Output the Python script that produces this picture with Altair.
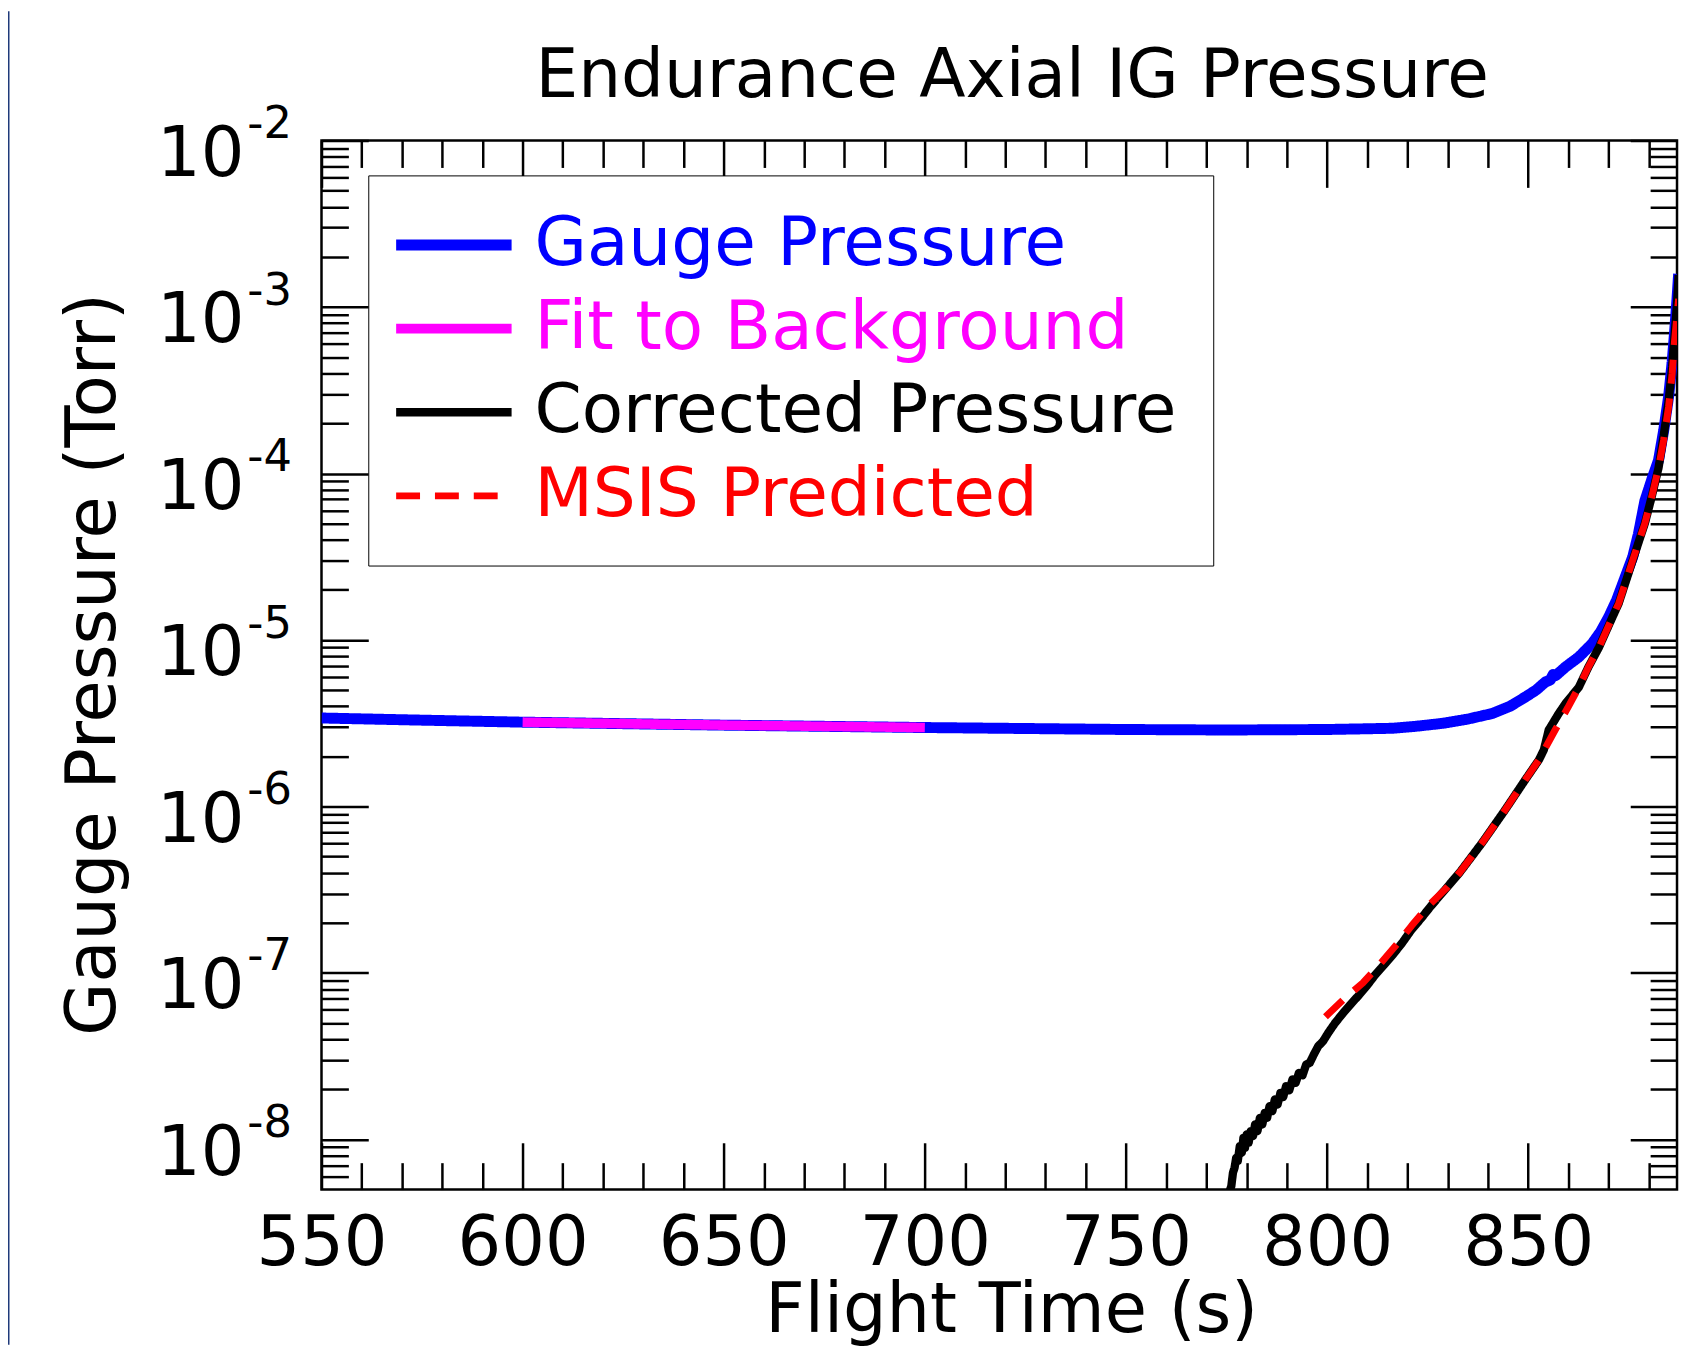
import json
import altair as alt
import pandas as pd

# ---------------- data ----------------
SERIES = ["Gauge Pressure", "Fit to Background", "Corrected Pressure", "MSIS Predicted"]
COLORS = ["#0000ff", "#ff00ff", "#000000", "#ff0000"]
WIDTHS = [11, 7, 10, 10]
DASHES = [[1, 0], [1, 0], [1, 0], [24, 15]]

GAUGE_T = [550, 575, 600, 650, 700, 725, 750, 775, 800, 810, 816.4, 822, 828.8, 835, 841.1,
           845.5, 849.4, 852, 854.3, 855.5, 856.2, 856.8, 859.3, 862.6, 865.9, 868, 870.0,
           872, 874.1, 876, 877.4, 879.0, 880.8, 882.4, 883.7, 884.9, 885.8, 886.4, 887.0,
           887.4]
GAUGE_P = [3.40e-6, 3.30e-6, 3.21e-6, 3.08e-6, 2.98e-6, 2.94e-6, 2.90e-6, 2.88e-6, 2.90e-6,
           2.93e-6, 2.95e-6, 3.03e-6, 3.16e-6, 3.35e-6, 3.62e-6, 4.00e-6, 4.56e-6, 5.01e-6,
           5.60e-6, 5.75e-6, 6.20e-6, 6.10e-6, 6.89e-6, 7.91e-6, 9.51e-6, 1.12e-5, 1.37e-5,
           1.74e-5, 2.38e-5, 3.16e-5, 4.33e-5, 6.84e-5, 9.30e-5, 1.20e-4, 1.82e-4, 2.88e-4,
           4.68e-4, 7.08e-4, 1.12e-3, 1.58e-3]

FIT_T = [600, 650, 700]
FIT_P = [3.21e-6, 3.08e-6, 2.98e-6]

CORR_T = [774.6, 775.3, 775.8, 776.2, 776.6, 777.0, 777.4, 777.8, 778.3, 778.8, 779.2, 779.6,
          780.0, 780.5, 781.0, 781.6, 782.1, 782.7, 783.3, 783.9, 784.5, 785.1, 785.7, 786.4,
          787.0, 787.7, 788.4, 789.1, 789.8, 790.6, 791.4, 792.2, 793.0, 793.9, 794.8, 795.7,
          796.7, 797.8, 799.0, 800.3, 802.0, 804.0, 806.0, 808.0, 810.0, 812.0, 814.2, 816.5,
          818.8, 821.0, 823.4, 825.8, 829.5, 833.0, 838.6, 844.3, 849.3, 852.7, 853.9, 855.1,
          857.6, 859.3, 862.6, 865.0, 867.6, 870.0, 872.5, 875.7, 877.5, 879.0, 880.8, 882.4,
          883.7, 884.9, 885.8, 886.4, 887.0, 887.4]
CORR_P = [3.16e-9, 3.98e-9, 4.90e-9, 5.25e-9, 6.31e-9, 6.76e-9, 7.76e-9, 7.41e-9, 9.12e-9,
          8.32e-9, 1.023e-8, 8.91e-9, 1.072e-8, 9.55e-9, 1.122e-8, 1.047e-8, 1.230e-8,
          1.122e-8, 1.349e-8, 1.230e-8, 1.445e-8, 1.349e-8, 1.585e-8, 1.479e-8, 1.738e-8,
          1.622e-8, 1.905e-8, 1.799e-8, 2.089e-8, 1.972e-8, 2.291e-8, 2.188e-8, 2.512e-8,
          2.427e-8, 2.818e-8, 2.884e-8, 3.236e-8, 3.631e-8, 3.89e-8, 4.37e-8, 5.01e-8, 5.75e-8,
          6.53e-8, 7.40e-8, 8.45e-8, 9.77e-8, 1.12e-7, 1.30e-7, 1.53e-7, 1.82e-7, 2.13e-7,
          2.52e-7, 3.20e-7, 4.02e-7, 6.08e-7, 9.57e-7, 1.45e-6, 1.91e-6, 2.19e-6, 2.88e-6,
          3.62e-6, 4.16e-6, 5.21e-6, 6.90e-6, 9.04e-6, 1.22e-5, 1.66e-5, 2.87e-5, 3.90e-5,
          5.01e-5, 7.40e-5, 1.08e-4, 1.70e-4, 2.71e-4, 4.40e-4, 6.82e-4, 1.05e-3, 1.56e-3]

MSIS_T = [799.6, 804.0, 808.9, 813.0, 817.4, 821.0, 825.1, 829.5, 833.0, 838.6, 844.3, 849.3,
          852.7, 856.7, 859.8, 862.6, 865.0, 867.6, 870.0, 872.5, 875.7, 877.5, 879.0, 880.8,
          882.4, 883.7, 884.9, 885.8, 886.4, 887.0, 887.4]
MSIS_P = [5.46e-8, 6.90e-8, 8.71e-8, 1.12e-7, 1.49e-7, 1.92e-7, 2.52e-7, 3.20e-7, 4.02e-7,
          6.08e-7, 9.57e-7, 1.45e-6, 1.91e-6, 2.88e-6, 3.90e-6, 5.21e-6, 6.90e-6, 9.04e-6,
          1.22e-5, 1.66e-5, 2.87e-5, 3.90e-5, 5.01e-5, 7.40e-5, 1.08e-4, 1.60e-4, 2.51e-4,
          4.00e-4, 6.31e-4, 8.90e-4, 1.12e-3]

X_DOMAIN = [550, 887]
Y_DOMAIN = [5e-9, 1e-2]
X_MAJOR = [550, 600, 650, 700, 750, 800, 850]
X_MINOR = [560, 570, 580, 590, 610, 620, 630, 640, 660, 670, 680, 690, 710, 720, 730, 740,
           760, 770, 780, 790, 810, 820, 830, 840, 860, 870, 880]
Y_MAJOR = [1e-2, 1e-3, 1e-4, 1e-5, 1e-6, 1e-7, 1e-8]
Y_BASE_LABELS = ["10", "10", "10", "10", "10", "10", "10"]
Y_EXP_LABELS = ["-2", "-3", "-4", "-5", "-6", "-7", "-8"]
Y_MINOR = [m * 10.0 ** e for e in range(-9, -2) for m in range(2, 10)
           if Y_DOMAIN[0] * 1.01 < m * 10.0 ** e < Y_DOMAIN[1]]

TITLE = "Endurance Axial IG Pressure"
X_TITLE = "Flight Time (s)"
Y_TITLE = "Gauge Pressure (Torr)"

# ---------------- style ----------------
FONT = "DejaVu Sans"
FS_TICK = 69
FS_EXP = 45
FS_AXTITLE = 69
FS_LEGEND = 68
FS_TITLE = 68
W, H = 1362, 1054
MAJ, MIN = 47, 27

xscale = alt.Scale(domain=X_DOMAIN, nice=False, zero=False)
yscale = alt.Scale(type="log", domain=Y_DOMAIN, nice=False)


def tick_axis(orient, values, size, **kw):
    return alt.Axis(orient=orient, values=values, offset=-size, tickSize=size, tickWidth=2.5,
                    tickColor="black", domain=False, grid=False, **kw)


def index_expr(labels):
    return "%s[round(-log(datum.value)/LN10) - 2]" % json.dumps(labels, ensure_ascii=False)


ax_x_bottom = tick_axis("bottom", X_MAJOR, MAJ, labels=True, format="d", labelFlush=False,
                        labelOverlap=False, labelPadding=20, labelFont=FONT,
                        labelFontSize=FS_TICK, labelColor="black", title=X_TITLE,
                        titleFont=FONT, titleFontSize=FS_AXTITLE, titleFontWeight="normal",
                        titleColor="black", titleBaseline="alphabetic", titleAlign="center",
                        titleX=693, titleY=190)
ax_x_bottom_minor = tick_axis("bottom", X_MINOR, MIN, labels=False, title=None)
ax_x_top = tick_axis("top", X_MAJOR, MAJ, labels=False, title=None)
ax_x_top_minor = tick_axis("top", X_MINOR, MIN, labels=False, title=None)

ax_y_left = tick_axis("left", Y_MAJOR, MAJ, labels=True, labelExpr=index_expr(Y_BASE_LABELS),
                      labelFlush=False, labelOverlap=False, labelPadding=78, labelOffset=14,
                      labelAlign="right", labelBaseline="middle",
                      labelFont=FONT, labelFontSize=FS_TICK, labelColor="black", title=Y_TITLE,
                      titleFont=FONT, titleFontSize=FS_AXTITLE, titleFontWeight="normal",
                      titleColor="black", titleAngle=270, titleBaseline="alphabetic",
                      titleAlign="center", titleX=-255, titleY=526)
ax_y_exp = tick_axis("left", Y_MAJOR, MAJ, labels=True, labelExpr=index_expr(Y_EXP_LABELS),
                     labelFlush=False, labelOverlap=False, labelPadding=75, labelOffset=-17,
                     labelAlign="left", labelBaseline="middle", tickOpacity=0,
                     labelFont=FONT, labelFontSize=FS_EXP, labelColor="black", title=None)
ax_y_left_minor = tick_axis("left", Y_MINOR, MIN, labels=False, title=None)
ax_y_right = tick_axis("right", Y_MAJOR, MAJ, labels=False, title=None)
ax_y_right_minor = tick_axis("right", Y_MINOR, MIN, labels=False, title=None)

legend = alt.Legend(
    title=None, orient="none", legendX=47, legendY=35, direction="vertical",
    fillColor="white", strokeColor="black", padding=36, rowPadding=16,
    symbolType="M-4,0H4", symbolSize=841, symbolOffset=16, labelOffset=47,
    labelFont=FONT, labelFontSize=FS_LEGEND, labelBaseline="middle", labelLimit=2000,
    labelColor={"expr": "scale('color', datum.value)"},
)


def frame(ts, ps, name):
    return pd.DataFrame({"t": ts, "p": ps, "series": [name] * len(ts)})


def series_layer(df, xaxis, yaxis):
    return alt.Chart(df).mark_line(clip=True, strokeJoin="round").encode(
        x=alt.X("t:Q", scale=xscale, axis=xaxis),
        y=alt.Y("p:Q", scale=yscale, axis=yaxis),
        color=alt.Color("series:N", scale=alt.Scale(domain=SERIES, range=COLORS), legend=legend),
        strokeDash=alt.StrokeDash("series:N", scale=alt.Scale(domain=SERIES, range=DASHES),
                                  legend=legend),
        strokeWidth=alt.StrokeWidth("series:N", scale=alt.Scale(domain=SERIES, range=WIDTHS),
                                    legend=legend),
        order=alt.Order("t:Q"),
    )


gauge_df = frame(GAUGE_T, GAUGE_P, SERIES[0])
fit_df = frame(FIT_T, FIT_P, SERIES[1])

gauge = series_layer(gauge_df, ax_x_bottom, ax_y_left)
fit = series_layer(fit_df, ax_x_bottom_minor, ax_y_left_minor)
corr = series_layer(frame(CORR_T, CORR_P, SERIES[2]), ax_x_top, ax_y_right)
msis = series_layer(frame(MSIS_T, MSIS_P, SERIES[3]), ax_x_top_minor, ax_y_right_minor)

# carrier for the exponent (superscript) labels of the y axis
exp_axis = alt.Chart(fit_df).mark_line(opacity=0).encode(
    x=alt.X("t:Q", scale=xscale, axis=None),
    y=alt.Y("p:Q", scale=yscale, axis=ax_y_exp),
)

border = alt.Chart(pd.DataFrame({"k": [0]})).mark_rule(color="#1F3A7A", strokeWidth=2).encode(
    x=alt.value(-314.5), y=alt.value(-130), y2=alt.value(H + 156)
)

chart = (
    alt.layer(gauge, fit, corr, msis, exp_axis, border)
    .resolve_axis(x="independent", y="independent")
    .properties(
        width=W, height=H,
        autosize=alt.AutoSizeParams(type="none"),
        padding={"left": 315, "top": 130, "right": 3, "bottom": 156},
        background="white",
        title=alt.TitleParams(text=TITLE, font=FONT, fontSize=FS_TITLE, fontWeight="normal",
                              color="black", anchor="middle", frame="group", offset=-155,
                              baseline="alphabetic", dx=13),
    )
    .configure_view(stroke="black", strokeWidth=2.5)
)

chart.save("out.html", embed_options={"renderer": "svg", "actions": False})
